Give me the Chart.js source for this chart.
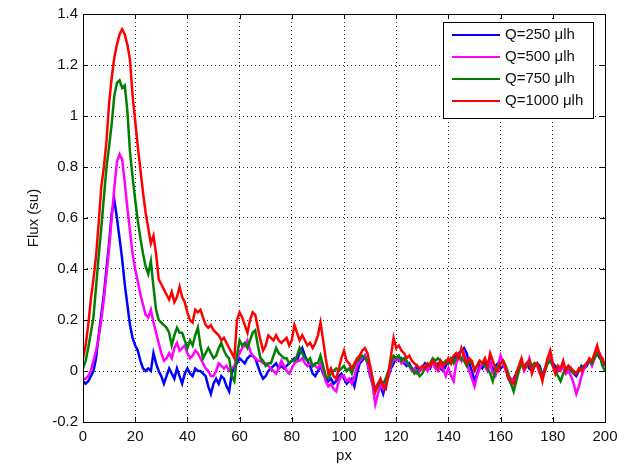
<!DOCTYPE html>
<html>
<head>
<meta charset="utf-8">
<script src="https://cdn.jsdelivr.net/npm/chart.js@4.4.0/dist/chart.umd.min.js"></script>
<style>
  html, body { margin: 0; padding: 0; background: #fff; }
  canvas { display: block; }
</style>
</head>
<body>
<canvas id="fluxChart" width="628" height="467"></canvas>
<script>
// px positions 0..200
const pxValues = Array.from({ length: 201 }, (_, i) => i);

// Flux (su) for each flow rate, one value per px
const q250 = [
  -0.04,-0.05,-0.04,-0.02,0.00,0.05,0.14,0.22,0.30,0.40,
  0.50,0.62,0.67,0.60,0.52,0.44,0.34,0.26,0.18,0.13,
  0.10,0.08,0.04,0.01,0.00,0.01,0.00,0.07,0.03,0.00,
  -0.02,-0.05,-0.02,0.01,-0.01,-0.03,0.01,-0.02,-0.05,-0.01,
  0.01,-0.01,-0.02,0.01,0.00,0.00,-0.01,-0.02,-0.06,-0.09,
  -0.05,-0.03,-0.05,-0.02,-0.03,-0.06,-0.08,-0.01,0.02,0.03,
  0.05,0.04,0.03,0.05,0.06,0.06,0.05,0.02,-0.01,-0.03,
  -0.02,0.00,0.01,0.02,0.03,0.01,0.02,0.01,0.02,0.03,
  0.04,0.05,0.04,0.07,0.09,0.06,0.04,0.02,-0.01,-0.02,
  0.00,0.02,-0.01,-0.03,-0.04,-0.03,-0.05,-0.04,-0.02,-0.01,
  -0.03,-0.05,-0.04,-0.03,-0.06,-0.01,0.03,0.04,0.06,0.03,
  -0.02,-0.05,-0.07,-0.05,-0.06,-0.09,-0.05,-0.02,0.01,0.03,
  0.05,0.04,0.05,0.03,0.02,0.03,0.01,0.00,0.02,0.00,
  0.01,0.03,0.02,0.01,0.04,0.02,0.03,0.01,0.00,0.02,
  0.04,0.03,0.05,0.06,0.07,0.08,0.09,0.07,0.03,0.00,
  -0.04,-0.01,0.02,0.01,0.03,0.01,0.04,0.00,0.02,0.03,
  0.01,0.02,0.01,-0.03,-0.05,-0.03,-0.01,0.01,0.03,0.02,
  0.03,0.01,0.00,0.02,0.03,0.02,-0.02,0.01,0.03,0.05,
  0.03,0.02,0.00,0.01,0.02,-0.01,0.00,0.01,-0.01,-0.02,
  0.00,0.02,0.01,0.02,0.04,0.03,0.06,0.07,0.05,0.04,
  0.02
];
const q500 = [
  -0.03,-0.03,-0.02,0.00,0.04,0.08,0.13,0.20,0.28,0.38,
  0.48,0.60,0.72,0.82,0.85,0.83,0.74,0.64,0.55,0.46,
  0.40,0.35,0.30,0.26,0.22,0.21,0.24,0.19,0.15,0.11,
  0.07,0.04,0.05,0.07,0.05,0.09,0.11,0.08,0.09,0.10,
  0.07,0.05,0.06,0.08,0.07,0.05,0.03,0.01,0.00,-0.02,
  -0.02,0.00,0.03,0.02,0.01,0.02,0.00,0.01,0.02,0.05,
  0.07,0.09,0.10,0.12,0.08,0.06,0.05,0.04,0.04,0.03,
  0.03,0.02,0.01,0.00,-0.01,0.01,0.04,0.02,0.00,-0.01,
  0.01,0.03,0.04,0.04,0.05,0.03,0.02,0.03,0.02,0.02,
  0.01,0.03,0.00,-0.04,-0.06,-0.05,-0.07,-0.08,-0.04,-0.02,
  -0.02,-0.04,-0.03,-0.05,-0.02,0.02,0.04,0.05,0.06,0.03,
  -0.01,-0.06,-0.13,-0.09,-0.05,-0.07,-0.06,-0.02,0.02,0.05,
  0.04,0.05,0.03,0.04,0.03,0.02,0.00,0.01,-0.01,0.00,
  0.01,0.02,0.00,0.02,0.03,0.01,0.00,0.02,0.01,-0.02,
  0.01,-0.02,-0.04,0.03,0.06,0.04,0.07,0.03,0.00,-0.03,
  -0.06,-0.02,0.01,0.03,0.02,0.00,0.03,-0.01,-0.02,0.02,
  0.06,0.03,0.00,-0.02,-0.03,-0.04,-0.02,0.01,0.03,0.00,
  0.02,0.05,0.01,0.03,0.02,-0.01,-0.03,0.00,0.04,0.05,
  0.02,-0.01,0.01,0.00,0.02,-0.01,0.00,-0.02,-0.05,-0.09,
  -0.06,-0.02,0.01,0.03,0.04,0.02,0.05,0.08,0.07,0.04,
  0.03
];
const q750 = [
  0.01,0.04,0.09,0.15,0.21,0.33,0.45,0.56,0.68,0.80,
  0.88,0.97,1.08,1.13,1.14,1.11,1.12,1.02,0.86,0.76,
  0.67,0.59,0.52,0.46,0.41,0.38,0.43,0.33,0.24,0.20,
  0.19,0.18,0.17,0.15,0.10,0.14,0.17,0.15,0.15,0.12,
  0.09,0.12,0.10,0.14,0.17,0.10,0.05,0.07,0.09,0.07,
  0.05,0.06,0.09,0.11,0.08,0.06,0.05,-0.02,-0.04,0.06,
  0.12,0.10,0.11,0.09,0.12,0.15,0.16,0.10,0.05,0.04,
  0.02,0.03,0.03,0.06,0.09,0.07,0.06,0.05,0.05,0.03,
  0.04,0.04,0.06,0.09,0.07,0.05,0.04,0.05,0.02,0.03,
  0.03,0.06,0.02,-0.02,-0.03,-0.01,0.00,0.01,0.00,0.01,
  0.02,0.00,0.01,-0.01,0.02,0.04,0.05,0.06,0.05,0.04,
  0.02,-0.04,-0.08,-0.06,-0.04,-0.05,-0.03,0.00,0.03,0.06,
  0.05,0.06,0.04,0.05,0.04,0.02,0.01,-0.01,0.00,-0.02,
  -0.01,0.01,0.02,0.03,0.05,0.04,0.05,0.04,0.03,0.04,
  0.03,0.05,0.03,0.05,0.06,0.05,0.04,0.02,0.04,0.03,
  0.01,0.02,0.04,0.03,0.02,0.01,-0.01,-0.04,0.00,0.02,
  0.03,0.04,0.02,-0.01,-0.05,-0.08,-0.04,0.00,0.03,0.01,
  0.02,0.04,0.02,0.03,0.03,0.01,-0.02,0.00,0.03,0.04,
  0.02,0.00,-0.02,-0.04,-0.01,0.01,0.02,0.00,-0.01,-0.01,
  0.00,0.01,0.02,0.03,0.04,0.03,0.05,0.07,0.06,0.02,
  0.00
];
const q1000 = [
  0.05,0.10,0.18,0.28,0.36,0.45,0.58,0.72,0.80,0.90,
  1.05,1.15,1.23,1.28,1.32,1.34,1.32,1.28,1.22,1.08,
  0.98,0.88,0.79,0.70,0.62,0.56,0.50,0.53,0.46,0.36,
  0.34,0.32,0.30,0.28,0.31,0.27,0.29,0.33,0.29,0.27,
  0.23,0.20,0.19,0.24,0.23,0.24,0.21,0.18,0.17,0.18,
  0.16,0.15,0.14,0.12,0.13,0.11,0.09,0.07,0.05,0.20,
  0.23,0.21,0.18,0.15,0.20,0.23,0.22,0.17,0.12,0.08,
  0.10,0.14,0.13,0.12,0.14,0.12,0.11,0.12,0.13,0.10,
  0.12,0.18,0.15,0.12,0.14,0.12,0.10,0.11,0.09,0.11,
  0.14,0.19,0.12,0.05,-0.01,0.01,-0.02,-0.03,0.01,0.05,
  0.08,0.04,0.03,0.01,0.03,0.05,0.06,0.08,0.09,0.07,
  0.02,-0.03,-0.08,-0.05,-0.03,-0.06,-0.07,-0.01,0.06,0.13,
  0.09,0.10,0.08,0.07,0.05,0.06,0.04,0.03,0.02,0.01,
  0.02,0.01,0.03,0.02,0.04,0.03,0.01,0.04,0.02,0.03,
  0.05,0.03,0.06,0.07,0.05,0.09,0.06,0.03,0.05,0.04,
  0.00,0.02,0.04,0.03,0.05,0.02,0.07,0.04,0.01,0.00,
  0.03,0.04,0.01,-0.03,-0.04,-0.05,-0.01,0.02,0.05,0.01,
  0.03,0.04,-0.01,0.02,0.03,0.00,-0.04,0.01,0.05,0.08,
  0.03,-0.01,0.02,0.01,0.04,0.00,0.02,0.01,0.00,-0.01,
  0.01,0.00,0.02,0.03,0.05,0.04,0.07,0.10,0.06,0.05,
  0.02
];

const seriesNames = ["Q=250 μlh", "Q=500 μlh", "Q=750 μlh", "Q=1000 μlh"];
const seriesColors = ["#0000ff", "#ff00ff", "#008000", "#ff0000"];
const xTicks = [0, 20, 40, 60, 80, 100, 120, 140, 160, 180, 200];
const yTicks = [-0.2, 0, 0.2, 0.4, 0.6, 0.8, 1, 1.2, 1.4];

const FONT = '"Liberation Sans", Arial, sans-serif';

// matlab style box with inward ticks, plus legend inside the axes
const boxAndLegend = {
  id: "boxAndLegend",
  afterDatasetsDraw(chart) {
    const { ctx, chartArea: a, scales } = chart;
    ctx.save();
    ctx.strokeStyle = "#000";
    ctx.lineWidth = 1;
    ctx.strokeRect(a.left + 0.5, a.top + 0.5, a.width, a.height);

    ctx.beginPath();
    xTicks.forEach(v => {
      const px = Math.round(scales.x.getPixelForValue(v)) + 0.5;
      ctx.moveTo(px, a.bottom); ctx.lineTo(px, a.bottom - 5);
      ctx.moveTo(px, a.top); ctx.lineTo(px, a.top + 5);
    });
    yTicks.forEach(v => {
      const py = Math.round(scales.y.getPixelForValue(v)) + 0.5;
      ctx.moveTo(a.left, py); ctx.lineTo(a.left + 5, py);
      ctx.moveTo(a.right, py); ctx.lineTo(a.right - 5, py);
    });
    ctx.stroke();

    // legend
    const lx = a.right - 162, ly = a.top + 8, lw = 150, lh = 96;
    ctx.fillStyle = "#fff";
    ctx.fillRect(lx, ly, lw, lh);
    ctx.strokeRect(lx + 0.5, ly + 0.5, lw, lh);
    ctx.font = "15px " + FONT;
    ctx.textBaseline = "middle";
    chart.data.datasets.forEach((ds, i) => {
      const ry = ly + 13 + i * 22;
      ctx.strokeStyle = ds.borderColor;
      ctx.lineWidth = 2;
      ctx.beginPath();
      ctx.moveTo(lx + 9, ry); ctx.lineTo(lx + 57, ry);
      ctx.stroke();
      ctx.fillStyle = "#111";
      ctx.fillText(ds.label, lx + 62, ry);
    });
    ctx.restore();
  }
};

const datasets = [q250, q500, q750, q1000].map((vals, i) => ({
  label: seriesNames[i],
  data: vals.map((v, k) => ({ x: pxValues[k], y: v })),
  borderColor: seriesColors[i],
  borderWidth: 2.5,
  pointRadius: 0,
  tension: 0,
  fill: false,
  order: 3 - i
}));

new Chart(document.getElementById("fluxChart").getContext("2d"), {
  type: "line",
  data: { datasets },
  plugins: [boxAndLegend],
  options: {
    responsive: false,
    animation: false,
    devicePixelRatio: 1,
    layout: { padding: { left: 0, right: 23, top: 12, bottom: 0 } },
    plugins: {
      legend: { display: false },
      tooltip: { enabled: false }
    },
    scales: {
      x: {
        type: "linear",
        min: 0,
        max: 200,
        afterBuildTicks: s => { s.ticks = xTicks.map(v => ({ value: v })); },
        afterFit: s => { s.height = 45; },
        grid: { color: "rgba(0,0,0,0.85)", lineWidth: 1, drawTicks: false },
        border: { display: false, dash: [1, 3] },
        ticks: { color: "#111", padding: 6, font: { family: FONT, size: 15 } },
        title: { display: true, text: "px", color: "#111", padding: { top: 0, bottom: 2 }, font: { family: FONT, size: 15 } }
      },
      y: {
        min: -0.2,
        max: 1.4,
        afterBuildTicks: s => { s.ticks = yTicks.map(v => ({ value: v })); },
        afterFit: s => { s.width = 83; },
        grid: { color: "rgba(0,0,0,0.85)", lineWidth: 1, drawTicks: false },
        border: { display: false, dash: [1, 3] },
        ticks: {
          color: "#111",
          padding: 5,
          font: { family: FONT, size: 15 },
          callback: v => String(Math.round(v * 10) / 10)
        },
        title: { display: true, text: "Flux (su)", color: "#111", padding: { top: 25, bottom: 0 }, font: { family: FONT, size: 15 } }
      }
    }
  }
});
</script>
</body>
</html>
